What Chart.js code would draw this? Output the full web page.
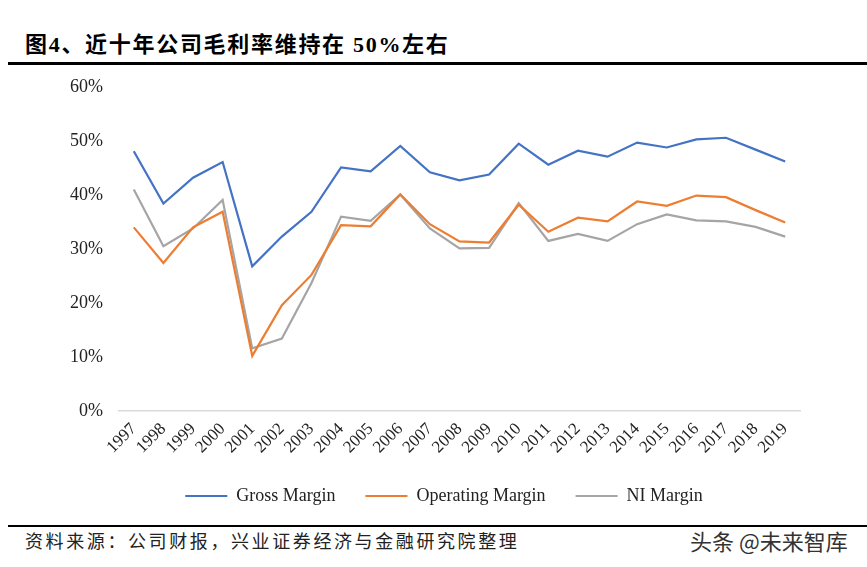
<!DOCTYPE html>
<html>
<head>
<meta charset="utf-8">
<script src="https://cdn.jsdelivr.net/npm/chart.js@4.4.0/dist/chart.umd.min.js"></script>
<style>
  html, body { margin: 0; padding: 0; background: #fff; }
  body { width: 867px; height: 567px; position: relative; overflow: hidden; }
  #title { position: absolute; left: 25px; top: 26px; font-family: "Liberation Serif", "Noto Sans CJK SC", serif; font-weight: bold; font-size: 22px; letter-spacing: 1.7px; color: #000; white-space: nowrap; }
  #topline { position: absolute; left: 8px; right: 0; top: 62px; height: 3px; background: #000; }
  #botline { position: absolute; left: 8px; right: 0; top: 525px; height: 2px; background: #000; }
  #source { position: absolute; left: 25px; top: 527px; font-family: "Liberation Serif", "Noto Sans CJK SC", serif; font-size: 18px; letter-spacing: 2.6px; color: #222; white-space: nowrap; }
  #wm { position: absolute; left: 690px; top: 524px; font-family: "Noto Sans CJK SC", sans-serif; font-size: 22px; color: #333; white-space: nowrap; }
  #wrap { position: absolute; left: 0; top: 62px; width: 867px; height: 459px; }
</style>
</head>
<body>
<div id="title">图4、近十年公司毛利率维持在 50%左右</div>
<div id="topline"></div>
<div id="wrap"><canvas id="c"></canvas></div>
<div id="botline"></div>
<div id="source">资料来源：公司财报，兴业证券经济与金融研究院整理</div>
<div id="wm">头条 @未来智库</div>
<script>
const years = ["1997","1998","1999","2000","2001","2002","2003","2004","2005","2006","2007","2008","2009","2010","2011","2012","2013","2014","2015","2016","2017","2018","2019"];
const grossMargin = [48.1,38.4,43.2,46.1,26.8,32.3,36.9,45.1,44.4,49.1,44.2,42.7,43.8,49.5,45.6,48.2,47.1,49.7,48.8,50.3,50.6,48.4,46.2];
const operatingMargin = [34.0,27.4,34.0,36.9,10.2,19.6,25.2,34.4,34.2,40.1,34.6,31.4,31.2,38.2,33.2,35.8,35.1,38.8,38.0,39.9,39.6,37.2,34.9];
const niMargin = [41.0,30.5,33.8,39.1,11.6,13.4,23.7,36.0,35.2,40.1,33.8,30.1,30.2,38.5,31.5,32.8,31.5,34.6,36.4,35.3,35.1,34.1,32.3];
const yTicks = [0,10,20,30,40,50,60];

const serif = "'Liberation Serif', 'Times New Roman', serif";
function ds(label, data, color) {
  return { label, data, borderColor: color, backgroundColor: color, borderWidth: 2.2, pointRadius: 0, tension: 0, fill: false };
}
const legendShift = {
  id: 'legendShift',
  afterLayout(chart) {
    const lg = chart.legend;
    if (lg) { lg.left += 44; lg.right += 44; }
  }
};
new Chart(document.getElementById('c'), {
  type: 'line',
  data: {
    labels: years,
    datasets: [
      ds('Gross Margin', grossMargin, '#4472C4'),
      ds('Operating Margin', operatingMargin, '#ED7D31'),
      ds('NI Margin', niMargin, '#A5A5A5')
    ]
  },
  plugins: [legendShift],
  options: {
    responsive: true,
    maintainAspectRatio: false,
    animation: false,
    layout: { padding: { top: 25, right: 67, bottom: 6, left: 0 } },
    plugins: {
      tooltip: { enabled: false },
      legend: {
        position: 'bottom',
        labels: {
          usePointStyle: true,
          pointStyle: 'line',
          pointStyleWidth: 42,
          padding: 30,
          color: '#222',
          font: { family: serif, size: 18 }
        }
      }
    },
    scales: {
      x: {
        offset: true,
        grid: { display: false },
        border: { display: true, color: '#D9D9D9', width: 1.5 },
        afterFit: (s) => { s.height = 46; },
        ticks: { autoSkip: false, minRotation: 45, maxRotation: 45, color: '#222', font: { family: serif, size: 17 }, padding: 0 }
      },
      y: {
        min: 0, max: 60,
        afterBuildTicks: (s) => { s.ticks = yTicks.map(v => ({ value: v })); },
        afterFit: (s) => { s.width = 119; },
        grid: { display: false },
        border: { display: false },
        ticks: { color: '#222', font: { family: serif, size: 18 }, padding: 8, callback: v => v + '%' }
      }
    }
  }
});
</script>
</body>
</html>
